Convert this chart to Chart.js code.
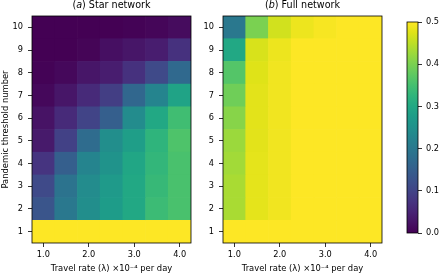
<!DOCTYPE html>
<html><head><meta charset="utf-8">
<script src="https://cdn.jsdelivr.net/npm/chart.js@4"></script>
<style>
html,body{margin:0;padding:0;background:#fff;}
#wrap{position:relative;width:440px;height:275px;overflow:hidden;}
.box{position:absolute;top:0;height:275px;}
</style></head><body>
<div id="wrap">
<div class="box" style="left:0;width:200px"><canvas id="c1"></canvas></div>
<div class="box" style="left:200px;width:200px"><canvas id="c2"></canvas></div>
<div class="box" style="left:400px;width:40px"><canvas id="c3"></canvas></div>
</div>
<script>
// ---- data ----
const travelRates = [1.0, 1.5, 2.0, 2.5, 3.0, 3.5, 4.0];
const thresholds = [1, 2, 3, 4, 5, 6, 7, 8, 9, 10];
const xTickValues = [1, 2, 3, 4];
const colorbarTicks = [0, 0.1, 0.2, 0.3, 0.4, 0.5];
const colorRange = [0, 0.5];
const panelTitles = ['(a) Star network', '(b) Full network'];
const xAxisLabel = 'Travel rate (λ) ×10⁻⁴ per day';
const yAxisLabel = 'Pandemic threshold number';
// rows: threshold 1..10 ; columns: travel rates
const starNetwork = [
  [0.5, 0.5, 0.5, 0.5, 0.5, 0.5, 0.5],
  [0.13, 0.2, 0.245, 0.275, 0.3, 0.34, 0.355],
  [0.11, 0.19, 0.24, 0.27, 0.3, 0.335, 0.355],
  [0.075, 0.15, 0.225, 0.255, 0.295, 0.33, 0.355],
  [0.035, 0.095, 0.175, 0.245, 0.28, 0.325, 0.36],
  [0.025, 0.06, 0.1, 0.15, 0.24, 0.3, 0.345],
  [0.01, 0.03, 0.06, 0.09, 0.165, 0.225, 0.29],
  [0.003, 0.01, 0.03, 0.04, 0.07, 0.11, 0.17],
  [0, 0, 0.005, 0.02, 0.03, 0.04, 0.07],
  [0, 0, 0, 0, 0.003, 0.007, 0.015]
];
const fullNetwork = [
  [0.5, 0.5, 0.5, 0.5, 0.5, 0.5, 0.5],
  [0.435, 0.48, 0.49, 0.5, 0.5, 0.5, 0.5],
  [0.435, 0.48, 0.49, 0.5, 0.5, 0.5, 0.5],
  [0.43, 0.48, 0.49, 0.5, 0.5, 0.5, 0.5],
  [0.425, 0.478, 0.49, 0.5, 0.5, 0.5, 0.5],
  [0.41, 0.478, 0.49, 0.5, 0.5, 0.5, 0.5],
  [0.39, 0.478, 0.49, 0.5, 0.5, 0.5, 0.5],
  [0.365, 0.475, 0.49, 0.5, 0.5, 0.5, 0.5],
  [0.3, 0.47, 0.487, 0.5, 0.5, 0.5, 0.5],
  [0.2, 0.4, 0.465, 0.487, 0.495, 0.5, 0.5]
];

// ---- style ----
const viridisStops = ['#440154','#471365','#482475','#463480','#414487','#3b528b','#355f8d','#2f6c8e','#2a788e','#25848e','#21918c','#1e9c89','#22a884','#2fb47c','#44bf70','#5ec962','#7ad151','#9bd93c','#bddf26','#dfe318','#fde725'];
function hexToRgb(h){return [parseInt(h.slice(1,3),16),parseInt(h.slice(3,5),16),parseInt(h.slice(5,7),16)];}
const viridisRgb = viridisStops.map(hexToRgb);
function viridis(t){
  t = Math.max(0, Math.min(1, t));
  const p = t * (viridisRgb.length - 1);
  const i = Math.min(Math.floor(p), viridisRgb.length - 2);
  const f = p - i;
  const a = viridisRgb[i], b = viridisRgb[i + 1];
  return 'rgb(' + a.map((v, k) => Math.round(v + (b[k] - v) * f)).join(',') + ')';
}
const FONT = "'DejaVu Sans', sans-serif";
Chart.defaults.font.family = FONT;
Chart.defaults.color = '#000';

const framePlugin = {
  id: 'frame',
  afterDatasetsDraw(chart) {
    const a = chart.chartArea, c = chart.ctx;
    c.save(); c.strokeStyle = '#000'; c.lineWidth = 0.8;
    c.strokeRect(a.left, a.top, a.right - a.left, a.bottom - a.top);
    c.restore();
  }
};
const titlePlugin = {
  id: 'panelTitle',
  afterDraw(chart, args, opts) {
    if (!opts || !opts.text) return;
    const m = opts.text.match(/^\((.)\)(.*)$/);
    const parts = m ? [{t: '(', i: false}, {t: m[1], i: true}, {t: ')' + m[2], i: false}] : [{t: opts.text, i: false}];
    const c = chart.ctx, a = chart.chartArea, size = 9.6;
    c.save();
    c.fillStyle = '#000'; c.textBaseline = 'middle'; c.textAlign = 'left';
    const fontOf = p => (p.i ? 'italic ' : '') + size + 'px ' + FONT;
    let total = 0;
    parts.forEach(p => { c.font = fontOf(p); p.w = c.measureText(p.t).width; total += p.w; });
    let x = (a.left + a.right) / 2 - total / 2;
    parts.forEach(p => { c.font = fontOf(p); c.fillText(p.t, x, 5.5); x += p.w; });
    c.restore();
  }
};

const gridStyle = { drawOnChartArea: false, color: '#000', lineWidth: 0.8, tickLength: 4, offset: false };

function heatmap(id, values, title, yWidth, padRight, showYTitle) {
  return new Chart(document.getElementById(id), {
    type: 'bar',
    data: {
      datasets: thresholds.map((t, r) => ({
        data: travelRates.map(x => ({ x: x, y: [t - 0.5, t + 0.5] })),
        backgroundColor: values[r].map(v => viridis((v - colorRange[0]) / (colorRange[1] - colorRange[0]))),
        borderWidth: 0,
        grouped: false,
        barPercentage: 1,
        categoryPercentage: 1
      }))
    },
    options: {
      responsive: true, maintainAspectRatio: false, animation: false,
      layout: { padding: { top: 16, right: padRight, bottom: 0, left: 0 } },
      plugins: { legend: { display: false }, tooltip: { enabled: false }, panelTitle: { text: title } },
      scales: {
        x: {
          type: 'linear', offset: false,
          min: travelRates[0] - (travelRates[1] - travelRates[0]) / 2,
          max: travelRates[travelRates.length - 1] + (travelRates[1] - travelRates[0]) / 2,
          afterBuildTicks: s => { s.ticks = xTickValues.map(v => ({ value: v })); },
          afterFit: s => { s.height = 32; },
          grid: gridStyle, border: { display: false },
          ticks: { callback: v => Number(v).toFixed(1), padding: 3, maxRotation: 0, autoSkip: false, font: { size: 8.2 } },
          title: { display: true, text: xAxisLabel, font: { size: 8.4 }, padding: { top: 0, bottom: 1.5 } }
        },
        y: {
          type: 'linear', min: 0.5, max: 10.5,
          afterBuildTicks: s => { s.ticks = thresholds.map(v => ({ value: v })); },
          afterFit: s => { s.width = yWidth; },
          grid: gridStyle, border: { display: false },
          ticks: { callback: v => String(v), padding: 5, autoSkip: false, font: { size: 8.2 } },
          title: { display: showYTitle, text: yAxisLabel, font: { size: 8.4 }, padding: { top: 1, bottom: 0 } }
        }
      }
    },
    plugins: [framePlugin, titlePlugin]
  });
}

heatmap('c1', starNetwork, panelTitles[0], 32, 9, true);
heatmap('c2', fullNetwork, panelTitles[1], 23, 18, false);

new Chart(document.getElementById('c3'), {
  type: 'bar',
  data: {
    labels: ['colorbar'],
    datasets: [{
      data: [colorRange.slice()],
      backgroundColor: ctx => {
        const ch = ctx.chart, y = ch.scales.y;
        if (!y || !ch.chartArea) return viridisStops[0];
        const g = ch.ctx.createLinearGradient(0, y.getPixelForValue(colorRange[0]), 0, y.getPixelForValue(colorRange[1]));
        viridisStops.forEach((c, i) => g.addColorStop(i / (viridisStops.length - 1), c));
        return g;
      },
      borderWidth: 0, barPercentage: 1, categoryPercentage: 1
    }]
  },
  options: {
    responsive: true, maintainAspectRatio: false, animation: false,
    layout: { padding: { top: 22, right: 0, bottom: 42, left: 7 } },
    plugins: { legend: { display: false }, tooltip: { enabled: false } },
    scales: {
      x: { display: false },
      y: {
        position: 'right', min: colorRange[0], max: colorRange[1],
        afterBuildTicks: s => { s.ticks = colorbarTicks.map(v => ({ value: v })); },
        afterFit: s => { s.width = 22; },
        grid: gridStyle, border: { display: false },
        ticks: { callback: v => Number(v).toFixed(1), padding: 4, autoSkip: false, font: { size: 8.2 } }
      }
    }
  },
  plugins: [framePlugin]
});
</script>
</body></html>
